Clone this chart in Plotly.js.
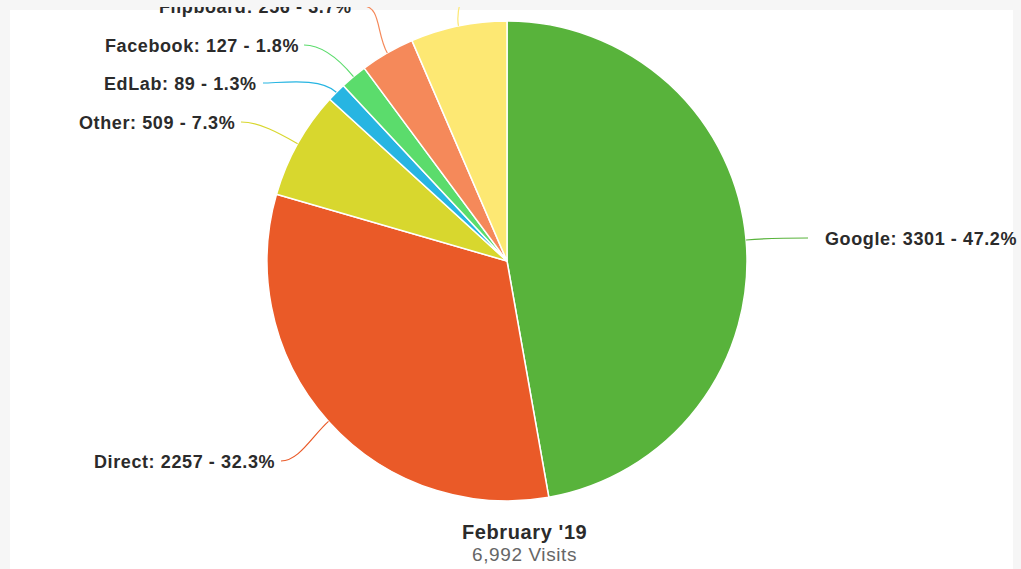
<!DOCTYPE html>
<html><head><meta charset="utf-8">
<script src="https://cdn.plot.ly/plotly-3.0.1.min.js"></script>
<style>
html,body{margin:0;padding:0;background:#fff;overflow:hidden}
.annotation-text{letter-spacing:0.6px}
#topband{position:absolute;left:0;top:0;width:1021px;height:7px;background:#f6f6f6;z-index:10}
</style>
</head><body>
<div id="chart" style="width:1021px;height:569px"></div>
<div id="topband"></div>
<script>
// ---- data ----
const categories = ["Google", "Direct", "Other", "EdLab", "Facebook", "Flipboard", "Unlabeled"];
const visits = [3301, 2257, 509, 89, 127, 256, 453];
const percents = ["47.2%", "32.3%", "7.3%", "1.3%", "1.8%", "3.7%", "6.5%"];
const showLabel = [true, true, true, true, true, true, false];
const titleText = "February '19";
const subtitleText = "6,992 Visits";

// ---- styles / layout config ----
const colors = ["#58b33b", "#ea5a28", "#d8d72e", "#27b5e2", "#5bdc6c", "#f5895a", "#fde873"];
const W = 1021, H = 569;
const CX = 507, CY = 261, R = 240;
// label anchor (pixel) and connector end point (pixel) per slice
const labelAnchors = [
  {x: 823, y: 239, side: "left",  ex: 808, ey: 238},
  {x: 277, y: 462, side: "right", ex: 281, ey: 461},
  {x: 237, y: 123, side: "right", ex: 241, ey: 122},
  {x: 259, y: 84,  side: "right", ex: 263, ey: 83},
  {x: 301, y: 46,  side: "right", ex: 304, ey: 45},
  {x: 354, y: 7,   side: "right", ex: 363, ey: 6},
  {x: 455, y: -30, side: "right", ex: 453, ey: -12}
];

const px = x => x / W;
const py = y => 1 - y / H;

const total = visits.reduce((a, b) => a + b, 0);
const shapes = [
  {type: "rect", xref: "paper", yref: "paper", x0: 0, x1: 1, y0: 0, y1: 1,
   fillcolor: "#f6f6f6", line: {width: 0}, layer: "below"},
  {type: "rect", xref: "paper", yref: "paper", x0: px(10), x1: px(1013), y0: 0, y1: py(10),
   fillcolor: "#ffffff", line: {width: 0}, layer: "below"}
];
const annotations = [];
let cum = 0;
visits.forEach((v, i) => {
  const mid = (cum + v / 2) / total;
  cum += v;
  const a = mid * 2 * Math.PI;
  const s = Math.sin(a), c = Math.cos(a);
  const p0 = [CX + R * s, CY - R * c];
  const p1 = [CX + (R + 22) * s, CY - (R + 22) * c];
  const la = labelAnchors[i];
  const dir = la.side === "left" ? -1 : 1;
  const p3 = [la.ex, la.ey];
  const p2 = [la.ex + dir * 18, la.ey];
  const path = `M ${px(p0[0])} ${py(p0[1])} C ${px(p1[0])} ${py(p1[1])}, ${px(p2[0])} ${py(p2[1])}, ${px(p3[0])} ${py(p3[1])}`;
  shapes.push({type: "path", xref: "paper", yref: "paper", path: path,
    line: {color: colors[i], width: 1.2}, layer: "above"});
  if (showLabel[i]) {
    annotations.push({
      xref: "paper", yref: "paper", x: px(la.x), y: py(la.y),
      xanchor: la.side, yanchor: "middle", showarrow: false,
      text: `${categories[i]}: ${v} - ${percents[i]}`,
      font: {family: "Liberation Sans, Arial, sans-serif", size: 18, color: "#2b2b2b", weight: "bold"}
    });
  }
});
annotations.push({
  xref: "paper", yref: "paper", x: px(524), y: py(532), xanchor: "center", yanchor: "middle",
  showarrow: false, text: "<b>" + titleText + "</b>",
  font: {family: "Liberation Sans, Arial, sans-serif", size: 20, color: "#2b2b2b"}
});
annotations.push({
  xref: "paper", yref: "paper", x: px(524), y: py(554), xanchor: "center", yanchor: "middle",
  showarrow: false, text: subtitleText,
  font: {family: "Liberation Sans, Arial, sans-serif", size: 19, color: "#666666"}
});

const trace = {
  type: "pie", labels: categories, values: visits, sort: false,
  direction: "clockwise", rotation: 0, textinfo: "none", hoverinfo: "skip",
  marker: {colors: colors, line: {color: "#ffffff", width: 1.5}},
  domain: {x: [px(CX - R), px(CX + R)], y: [py(CY + R), py(CY - R)]},
  showlegend: false
};

Plotly.newPlot("chart", [trace], {
  width: W, height: H, margin: {l: 0, r: 0, t: 0, b: 0},
  paper_bgcolor: "rgba(0,0,0,0)", showlegend: false,
  shapes: shapes, annotations: annotations
}, {displayModeBar: false, staticPlot: true});
</script>
</body></html>
